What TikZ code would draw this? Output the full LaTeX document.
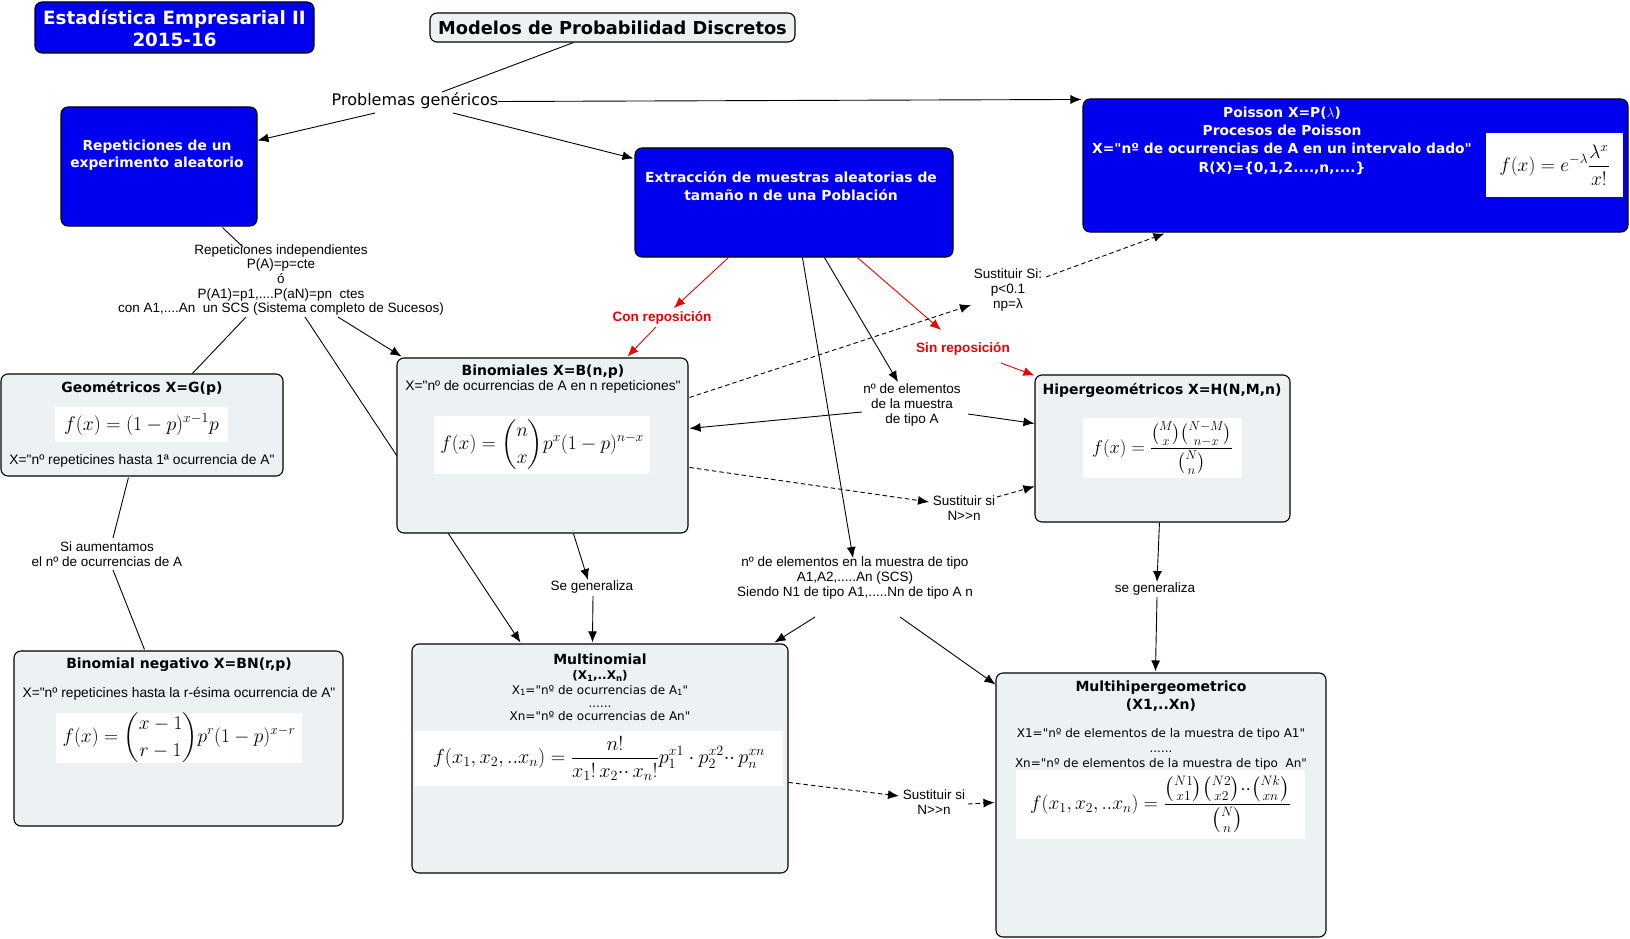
\RequirePackage{fix-cm}
\documentclass[tikz,border=0pt]{standalone}
\usepackage{amsmath}
\usepackage{fontspec}
\setmainfont{DejaVu Sans}
\newfontfamily\dvs{DejaVu Sans}
\newfontfamily\tah{Liberation Sans}
\usetikzlibrary{arrows.meta,calc,backgrounds}
\definecolor{cblue}{RGB}{0,0,238}
\definecolor{cgray}{RGB}{236,242,244}
\definecolor{cred}{RGB}{240,0,0}
\newcommand\lsub[1]{\raisebox{-0.12em}{\fontsize{8.5}{8.5}\selectfont #1}}
\newcommand\mkbox[7]{%
 \pgfmathsetmacro\mkW{#5-#3}\pgfmathsetmacro\mkH{#6-#4}%
 \pgfmathsetmacro\mkX{(#3+#5)/2}\pgfmathsetmacro\mkY{(#4+#6)/2}%
 \node[#1, minimum width=\mkW pt, minimum height=\mkH pt] (#2) at (\mkX,\mkY) {#7};}
\begin{document}
\dvs
\begin{tikzpicture}[x=1pt,y=-1pt,
 bluebox/.style={draw=black, fill=cblue, rounded corners=7pt, line width=1.1pt, inner sep=0pt},
 graybox/.style={draw=black, fill=cgray, rounded corners=7pt, line width=1.1pt, inner sep=0pt},
 fmbox/.style={fill=white, inner sep=0pt, font=\fontsize{19.5}{22}\selectfont},
 arr/.style={-{Latex[length=11pt,width=9pt]}, line width=0.9pt},
 darr/.style={arr, dash pattern=on 4.5pt off 3pt},
 rarr/.style={arr, draw=cred, color=cred},
 pline/.style={line width=0.9pt},
 lbl/.style={font=\tah\fontsize{13.5}{14.6}\selectfont, align=center, inner sep=0pt},
 rlbl/.style={font=\tah\bfseries\fontsize{13.6}{15}\selectfont, text=cred, align=center, inner sep=0pt},
 btitle/.style={font=\dvs\bfseries\fontsize{14}{17}\selectfont, align=center, inner sep=0pt},
 wtxt/.style={font=\dvs\bfseries\fontsize{13.9}{17.5}\selectfont, text=white, align=center, inner sep=0pt},
 vtxt/.style={font=\dvs\fontsize{12}{13}\selectfont, align=center, inner sep=0pt},
 ttxt/.style={font=\tah\fontsize{13.8}{15}\selectfont, align=center, inner sep=0pt}
]
\useasboundingbox (0,0) rectangle (1630,939);

% ---------- boxes ----------
\mkbox{bluebox}{ttl}{35}{2}{314}{53}{}
\node[font=\dvs\bfseries\fontsize{18.3}{22}\selectfont, text=white, align=center, inner sep=0pt] (ttltxt) at (174.5,28) {Estadística Empresarial II\\2015-16};

\mkbox{graybox}{mod}{430}{13}{795}{42}{}
\node[font=\dvs\bfseries\fontsize{17.8}{20}\selectfont, inner sep=0pt] (modtxt) at (612.5,27.5) {Modelos de Probabilidad Discretos};

\node[font=\dvs\fontsize{16}{18}\selectfont, inner sep=1pt] (prob) at (415,101) {Problemas genéricos};

\mkbox{bluebox}{rep}{61}{107}{257}{226}{}
\node[wtxt, font=\dvs\bfseries\fontsize{13.8}{17}\selectfont] (reptxt) at (157,155.5) {Repeticiones de un\\experimento aleatorio};

\mkbox{bluebox}{ext}{635}{148}{953}{257}{}
\node[wtxt] (exttxt) at (791,186) {Extracción de muestras aleatorias de\\tamaño n de una Población};

\mkbox{bluebox}{poi}{1083}{99}{1628}{232}{}
\node[wtxt, font=\dvs\bfseries\fontsize{13.8}{18.3}\selectfont] (poitxt) at (1282,140.5) {Poisson X=P($\lambda$)\\Procesos de Poisson\\X="nº de ocurrencias de A en un intervalo dado"\\R(X)=\{0,1,2....,n,....\}};
\mkbox{fmbox}{poif}{1486}{133}{1623}{197}{$\displaystyle f(x)=e^{-\lambda}\frac{\lambda^x}{x!}$}

\mkbox{graybox}{bin}{397}{358}{688}{533}{}
\node[btitle] (bintit) at (543,372) {Binomiales X=B(n,p)};
\node[ttxt] (binsub) at (543,387) {X="nº de ocurrencias de A en n repeticiones"};
\mkbox{fmbox}{binf}{434}{416}{650}{474}{$\displaystyle f(x)=\binom{n}{x}p^x(1-p)^{n-x}$}

\mkbox{graybox}{geo}{1}{374}{283}{476}{}
\node[btitle] (geotit) at (142,388) {Geométricos X=G(p)};
\mkbox{fmbox}{geof}{55}{407}{228}{442}{\fontsize{19.8}{22}\selectfont$f(x)=(1-p)^{x-1}p$}
\node[ttxt] (geosub) at (142,461) {X="nº repeticines hasta 1ª ocurrencia de A"};

\mkbox{graybox}{hip}{1035}{375}{1290}{522}{}
\node[btitle] (hiptit) at (1162,390) {Hipergeométricos X=H(N,M,n)};
\mkbox{fmbox}{hipf}{1083}{418}{1242}{478}{\fontsize{18.5}{21}\selectfont$\displaystyle f(x)=\frac{\binom{M}{x}\binom{N-M}{n-x}}{\binom{N}{n}}$}

\mkbox{graybox}{bn}{14}{651}{343}{826}{}
\node[btitle] (bntit) at (179,665) {Binomial negativo X=BN(r,p)};
\node[ttxt] (bnsub) at (179,694) {X="nº repeticines hasta la r-ésima ocurrencia de A"};
\mkbox{fmbox}{bnf}{56}{713}{302}{763}{$\displaystyle f(x)=\binom{x-1}{r-1}p^r(1-p)^{x-r}$}

\mkbox{graybox}{mn}{412}{644}{788}{873}{}
\node[btitle] (mntit) at (600,659) {Multinomial};
\node[font=\dvs\bfseries\fontsize{12}{13}\selectfont, inner sep=0pt] (mnsub) at (600,676) {(X\lsub{1},..X\lsub{n})};
\node[vtxt] (mnx) at (600,703) {X\lsub{1}="nº de ocurrencias de A\lsub{1}"\\......\\Xn="nº de ocurrencias de An"};
\mkbox{fmbox}{mnf}{415}{731}{783}{786}{\fontsize{20.2}{23}\selectfont$\displaystyle f(x_1,x_2,..x_n)=\frac{n!}{x_1!\,x_2{\cdot}{\cdot}\,x_n!}p_1^{x1}\cdot p_2^{x2}{\cdot}{\cdot}\,p_n^{xn}$}

\mkbox{graybox}{mh}{996}{673}{1326}{937}{}
\node[btitle, font=\dvs\bfseries\fontsize{14}{18}\selectfont] (mhtit) at (1161,696) {Multihipergeometrico\\(X1,..Xn)};
\node[vtxt, font=\dvs\fontsize{12}{15}\selectfont] (mhx) at (1161,749) {X1="nº de elementos de la muestra de tipo A1"\\......\\Xn="nº de elementos de la muestra de tipo\ \ An"};
\mkbox{fmbox}{mhf}{1016}{770}{1305}{839}{$\displaystyle f(x_1,x_2,..x_n)=\frac{\binom{N1}{x1}\binom{N2}{x2}{\cdot}{\cdot}\binom{Nk}{xn}}{\binom{N}{n}}$}

% ---------- linking labels ----------
\node[lbl] (lrep) at (281,280) {Repeticiones independientes\\P(A)=p=cte\\ó\\P(A1)=p1,....P(aN)=pn\ \ ctes\\con A1,....An\ \ un SCS (Sistema completo de Sucesos)};
\node[rlbl] (lcon) at (662,318) {Con reposición};
\node[rlbl] (lsin) at (963,349) {Sin reposición};
\node[lbl] (lsus1) at (1008,290) {Sustituir Si:\\p<0.1\\np=λ};
\node[lbl] (ltipoA) at (912,405) {nº de elementos\\de la muestra\\de tipo A};
\node[lbl] (lsus2) at (964,508) {Sustituir si\\N>>n};
\node[lbl] (laum) at (107,554) {Si aumentamos\\el nº de ocurrencias de A};
\node[lbl] (lgen1) at (592,587) {Se generaliza};
\node[lbl] (lmult) at (855,578) {nº de elementos en la muestra de tipo\\A1,A2,.....An (SCS)\\Siendo N1 de tipo A1,.....Nn de tipo A n};
\node[lbl] (lgen2) at (1155,589) {se generaliza};
\node[lbl] (lsus3) at (934,802) {Sustituir si\\N>>n};

% ---------- connectors ----------
\begin{pgfonlayer}{background}
\draw[arr] ($(lrep)+(24,37)$) -- ($(mn.north west)+(109,-1)$);
\end{pgfonlayer}
\draw[pline] ($(mod.south west)+(144,0)$) -- ($(prob)+(27,-9)$);
\draw[arr] ($(prob)+(-40,12)$) -- ($(rep.north east)+(0,34)$);
\draw[arr] ($(prob)+(38,12)$) -- ($(ext.north west)+(-1,11)$);
\draw[arr] ($(prob)+(83,0.5)$) -- ($(poi.north west)+(-1,1)$);
\draw[pline] ($(rep.south west)+(162,1)$) -- ($(lrep)+(-38,-33)$);
\draw[pline] ($(lrep)+(-35,37)$) -- ($(geo.north west)+(192,0)$);
\draw[arr] ($(lrep)+(57,37)$) -- ($(bin.north west)+(5,-1)$);
\draw[rarr] ($(ext.south west)+(94,0)$) -- ($(lcon)+(12,-10)$);
\draw[rarr] ($(lcon)+(-6,9)$) -- ($(bin.north west)+(231,-1)$);
\draw[rarr] ($(ext.south west)+(223,0)$) -- ($(lsin)+(-22,-19)$);
\draw[rarr] ($(lsin)+(38,14)$) -- ($(hip.north west)+(0,1)$);
\draw[arr] ($(ext.south west)+(190,0)$) -- ($(ltipoA)+(-14,-23)$);
\draw[arr] ($(ltipoA)+(-50,7)$) -- ($(bin.north east)+(1,71)$);
\draw[arr] ($(ltipoA)+(56,9)$) -- ($(hip.north west)+(0,49)$);
\draw[arr] ($(ext.south west)+(168,0)$) -- ($(lmult)+(-2,-20)$);
\draw[arr] ($(lmult)+(-40,39)$) -- ($(mn.north east)+(-14,-1)$);
\draw[arr] ($(lmult)+(45,39)$) -- ($(mh.north west)+(0,12)$);
\draw[darr] ($(bin.north east)+(1,40)$) -- ($(lsus1)+(-37,15)$);
\draw[darr] ($(lsus1)+(38,-13)$) -- ($(poi.south west)+(82,1)$);
\draw[darr] ($(bin.north east)+(1,110)$) -- ($(lsus2)+(-35,-6)$);
\draw[darr] ($(lsus2)+(33,-11)$) -- ($(hip.north west)+(0,112)$);
\draw[pline] ($(geo.south west)+(128,1)$) -- ($(laum)+(6,-16)$);
\draw[pline] ($(laum)+(6,16)$) -- ($(bn.north west)+(131,-1)$);
\draw[arr] ($(bin.south west)+(177,0)$) -- ($(lgen1)+(-4,-7)$);
\draw[arr] ($(lgen1)+(1,9)$) -- ($(mn.north west)+(181,-1)$);
\draw[arr] ($(hip.south west)+(125,0)$) -- ($(lgen2)+(2,-7)$);
\draw[arr] ($(lgen2)+(2,8)$) -- ($(mh.north west)+(160,-1)$);
\draw[darr] ($(mn.north east)+(0,139)$) -- ($(lsus3)+(-35,-6)$);
\draw[darr] ($(lsus3)+(34,2)$) -- ($(mh.north west)+(-1,130)$);
\end{tikzpicture}
\end{document}
